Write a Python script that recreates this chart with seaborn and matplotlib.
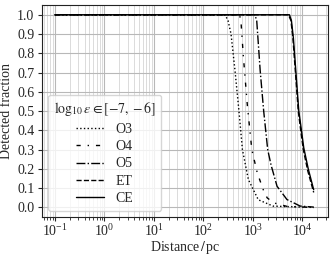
import matplotlib
matplotlib.use("Agg")
import matplotlib.pyplot as plt
import matplotlib.ticker as mticker
import numpy as np
import pandas as pd
import seaborn as sns


# values (distance in pc, detected fraction)
O3_DIST = [0.1, 275, 316, 363, 437, 525, 617, 813, 1290, 2570, 17000]
O3_FRAC = [1.0, 1.0, 0.97, 0.90, 0.71, 0.50, 0.30, 0.145, 0.04, 0.007, 0.0]

O4_DIST = [0.1, 537, 575, 646, 776, 955, 1230, 1620, 1950, 2630, 5000, 17000]
O4_FRAC = [1.0, 1.0, 0.97, 0.78, 0.53, 0.30, 0.18, 0.093, 0.05, 0.024, 0.005, 0.0]

O5_DIST = [0.1, 1100, 1200, 1410, 1660, 2000, 2340, 3090, 4900, 9100, 17000]
O5_FRAC = [1.0, 1.0, 0.97, 0.71, 0.50, 0.30, 0.22, 0.11, 0.041, 0.007, 0.002]

ET_DIST = [0.1, 5250, 5900, 6460, 8300, 9300, 10500, 12900, 17000]
ET_FRAC = [1.0, 1.0, 0.97, 0.88, 0.50, 0.40, 0.30, 0.19, 0.078]

CE_DIST = [0.1, 5500, 6030, 6600, 8500, 9500, 10700, 13200, 17000]
CE_FRAC = [1.0, 1.0, 0.97, 0.88, 0.50, 0.41, 0.31, 0.20, 0.092]

SERIES = [
    ("O3", O3_DIST, O3_FRAC, ":"),
    ("O4", O4_DIST, O4_FRAC, (0, (3, 5, 1, 5))),
    ("O5", O5_DIST, O5_FRAC, "-."),
    ("ET", ET_DIST, ET_FRAC, "--"),
    ("CE", CE_DIST, CE_FRAC, "-"),
]


def main() -> None:
    sns.set_style("ticks")
    plt.rcParams["font.family"] = ["Liberation Serif", "DejaVu Serif"]
    plt.rcParams["mathtext.fontset"] = "stix"
    plt.rcParams["font.size"] = 10

    fig = plt.figure(figsize=(3.32, 2.56), dpi=100)
    ax = fig.add_axes([0.1265, 0.152, 0.8615, 0.828])

    for name, dist, frac, ls in SERIES:
        df = pd.DataFrame({"dist": dist, "frac": frac})
        sns.lineplot(data=df, x="dist", y="frac", ax=ax, color="k", lw=1.0,
                     linestyle=ls, label=name, sort=False, estimator=None)

    ax.set_xscale("log")
    ax.set_xlim(10 ** -1.26, 10 ** 4.52)
    ax.set_ylim(-0.05, 1.05)
    ax.set_yticks(np.round(np.arange(0, 1.01, 0.1), 1))
    ax.yaxis.set_major_formatter(mticker.FormatStrFormatter("%.1f"))
    ax.xaxis.set_minor_locator(mticker.LogLocator(base=10, subs=np.arange(2, 10), numticks=20))

    ax.grid(True, which="major", color="#b8b8b8", lw=0.8)
    ax.grid(True, which="minor", color="#d6d6d6", lw=0.6)
    ax.set_axisbelow(True)
    for spine in ax.spines.values():
        spine.set_color("#222222")
        spine.set_linewidth(0.8)
    ax.tick_params(which="major", length=3, width=0.8, labelsize=10)
    ax.tick_params(axis="x", which="major", pad=1.5)
    ax.tick_params(axis="y", which="major", pad=2.5)
    ax.tick_params(which="minor", length=1.8, width=0.6)

    ax.set_xlabel("Distance$\\,/\\,$pc", labelpad=0)
    ax.set_ylabel("Detected fraction", labelpad=3)

    leg = ax.legend(title="$\\log_{10}\\varepsilon \\in [-7, -6]$", loc="lower left",
                    fontsize=10, title_fontsize=10, frameon=True, fancybox=True,
                    labelspacing=0.32, borderaxespad=0.45)
    leg.get_frame().set_edgecolor("#cccccc")
    leg.get_frame().set_alpha(0.8)

    fig.savefig("out.png", dpi=100)
    plt.close(fig)


if __name__ == "__main__":
    main()
